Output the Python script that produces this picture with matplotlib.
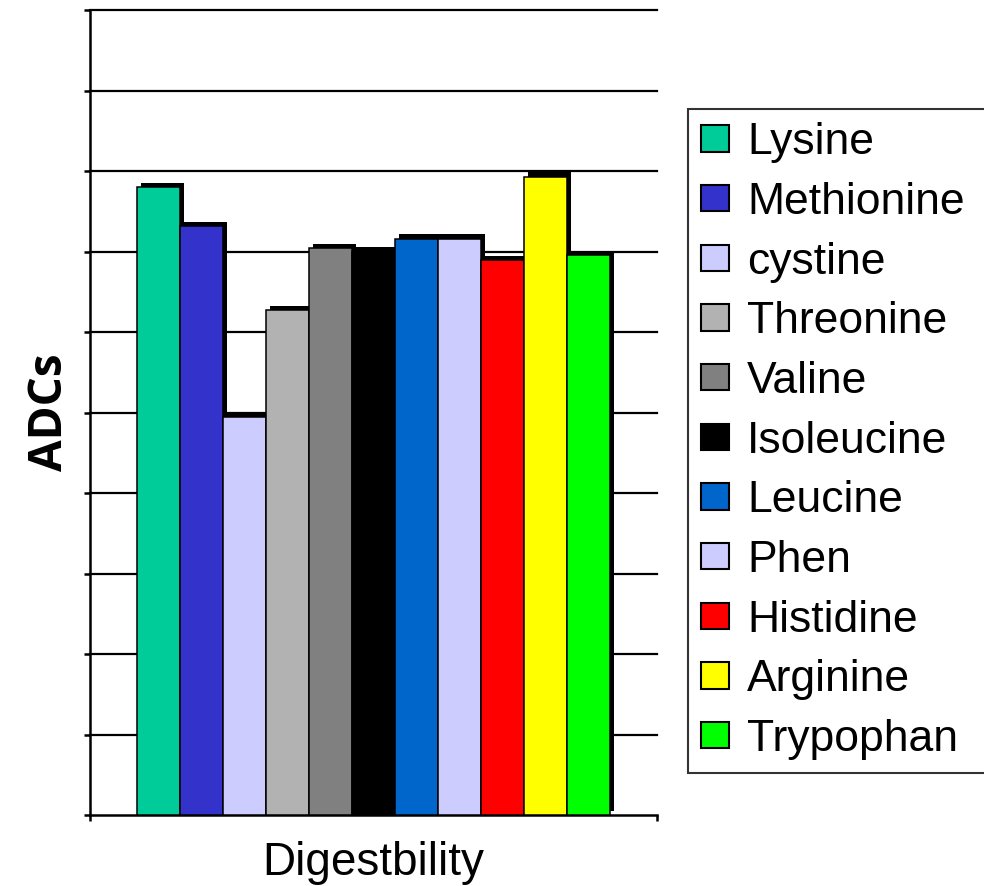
import matplotlib
matplotlib.use('Agg')
import matplotlib.pyplot as plt
import matplotlib.patheffects as pe
import numpy as np

plt.rcParams['font.family'] = ['Liberation Sans', 'DejaVu Sans']

# amino acid digestibility coefficients
amino_acids = ['Lysine', 'Methionine', 'cystine', 'Threonine', 'Valine', 'Isoleucine',
               'Leucine', 'Phen', 'Histidine', 'Arginine', 'Trypophan']
adc_values = [78.0, 73.2, 49.4, 62.7, 70.4, 70.0, 71.6, 71.6, 68.9, 79.3, 69.6]
bar_colors = ['#00CC99', '#3333CC', '#CCCCFF', '#B2B2B2', '#808080', '#000000',
              '#0066CC', '#CCCCFF', '#FF0000', '#FFFF00', '#00FF00']
y_grid = np.arange(0, 101, 10)


def main():
    fig = plt.figure(figsize=(9.84, 8.86), dpi=100)
    ax = fig.add_axes([0.0915, 0.0801, 0.576, 0.9086])

    x = np.arange(len(amino_acids))
    shadow = [pe.SimplePatchShadow(offset=(3, 3), shadow_rgbFace='black', alpha=1.0),
              pe.Normal()]
    for i, (name, val, col) in enumerate(zip(amino_acids, adc_values, bar_colors)):
        ax.bar(x[i], val, width=1.0, color=col, edgecolor='black', linewidth=1.1,
               label=name, zorder=3, path_effects=shadow)

    ax.set_xlim(-0.5 - 47 / 43, len(amino_acids) - 0.5 + 47 / 43)
    ax.set_ylim(0, 100)
    ax.set_yticks(y_grid)
    ax.set_yticklabels([])
    ax.set_xticks(ax.get_xlim())
    ax.set_xticklabels([])
    for yv in y_grid[1:]:
        ax.axhline(yv, color='black', linewidth=1.6, zorder=1, clip_on=False)

    for s in ['top', 'right']:
        ax.spines[s].set_visible(False)
    for s in ['left', 'bottom']:
        ax.spines[s].set_linewidth(1.8)
    ax.tick_params(axis='both', direction='out', length=4.5, width=1.8, color='black')

    ax.set_ylabel('ADCs', fontsize=33, fontweight='bold', family='Open Sans', labelpad=4)
    ax.set_xlabel('Digestbility', fontsize=33, labelpad=11)

    # legend box runs past the right edge of the figure
    leg = fig.legend(loc='upper left', bbox_to_anchor=(0.699, 0.877, 0.34, 0.0),
                     mode='expand', fontsize=32, frameon=True, fancybox=False,
                     borderaxespad=0, borderpad=0.3, labelspacing=0.42,
                     handlelength=0.63, handleheight=0.54, handletextpad=0.4)
    leg.get_frame().set_edgecolor('black')
    leg.get_frame().set_linewidth(1.5)
    for h in leg.legend_handles:
        h.set_path_effects([])
        h.set_linewidth(1.5)

    fig.savefig('out.png', dpi=100)


if __name__ == '__main__':
    main()
